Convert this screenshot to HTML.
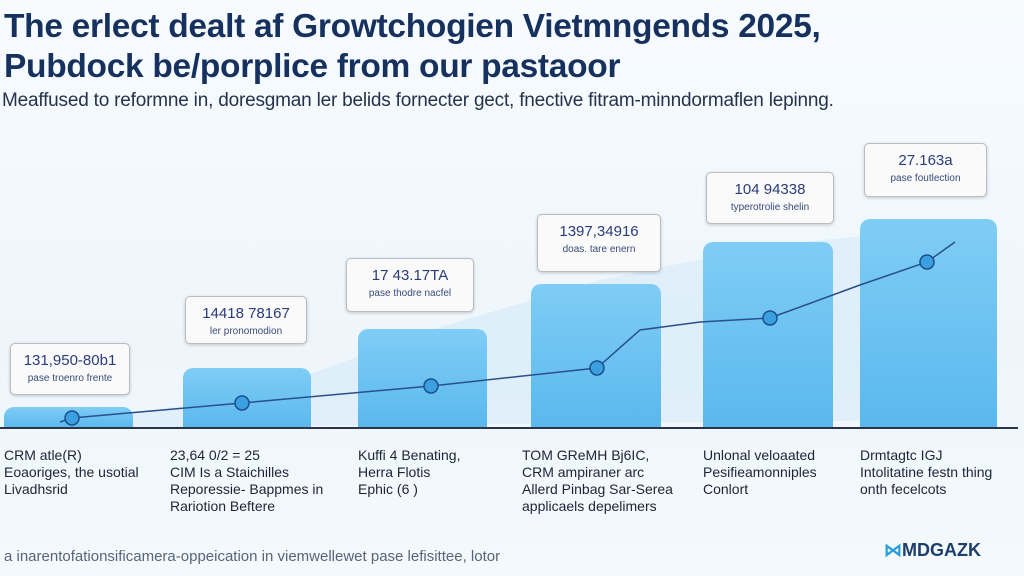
<!DOCTYPE html>
<html><head><meta charset="utf-8"><style>
body{margin:0;width:1024px;height:576px;overflow:hidden;background:linear-gradient(180deg,#f7fbfe 0%,#eef6fc 60%,#f4f9fd 100%);font-family:"Liberation Sans",sans-serif;position:relative}
.t{position:absolute;left:4px;font-weight:bold;color:#17315f;font-size:33.5px;letter-spacing:-0.3px}
.sub{position:absolute;left:2px;top:90px;font-size:19px;color:#25324a;letter-spacing:-0.2px}
.bar{position:absolute;background:linear-gradient(180deg,#7fcdf5,#5ab8ee);border-radius:10px 10px 0 0}
.cb{position:absolute;background:#fafafa;border:1px solid #b8bcc4;border-radius:5px;box-shadow:0 1px 3px rgba(0,0,0,.2);text-align:center}
.cb b{display:block;color:#2a3b7a;font-size:15px;font-weight:normal;margin-top:8px}
.cb i{display:block;font-style:normal;color:#3a4a7a;font-size:10px;margin-top:4px}
.lb{position:absolute;top:447px;font-size:14px;color:#1d2535;line-height:17px}
</style></head><body>
<div class="t" style="top:8px">The erlect dealt af Growtchogien Vietmngends 2025,</div>
<div class="t" style="top:48px">Pubdock be/porplice from our pastaoor</div>
<div class="sub">Meaffused to reformne in, doresgman ler belids fornecter gect, fnective fitram-minndormaflen lepinng.</div>
<svg style="position:absolute;left:0;top:0" width="1024" height="576">
<polygon points="60,420 240,400 430,330 600,280 770,245 930,230 930,420 60,428" fill="#cfe8f8" opacity=".5"/>
</svg>
<div class="bar" style="left:4px;top:407px;width:129px;height:21px"></div>
<div class="bar" style="left:183px;top:368px;width:128px;height:60px"></div>
<div class="bar" style="left:358px;top:329px;width:129px;height:99px"></div>
<div class="bar" style="left:531px;top:284px;width:130px;height:144px"></div>
<div class="bar" style="left:703px;top:242px;width:130px;height:186px"></div>
<div class="bar" style="left:860px;top:219px;width:137px;height:209px"></div>
<svg style="position:absolute;left:0;top:0" width="1024" height="576">
<line x1="0" y1="428" x2="1018" y2="428" stroke="#2a3548" stroke-width="2"/>
<polyline points="60,422 72,418 242,403 431,386 597,368 640,330 700,322 770,318 860,285 927,262 955,242" fill="none" stroke="#2a4f8a" stroke-width="1.5"/>
<g fill="#3aa0e0" stroke="#1d4f8a" stroke-width="1.5">
<circle cx="72" cy="418" r="7"/><circle cx="242" cy="403" r="7"/><circle cx="431" cy="386" r="7"/><circle cx="597" cy="368" r="7"/><circle cx="770" cy="318" r="7"/><circle cx="927" cy="262" r="7"/></g>
</svg>
<div class="cb" style="left:10px;top:343px;width:118px;height:50px"><b>131,950-80b1</b><i>pase troenro frente</i></div>
<div class="cb" style="left:185px;top:296px;width:120px;height:46px"><b>14418 78167</b><i>ler pronomodion</i></div>
<div class="cb" style="left:346px;top:258px;width:126px;height:52px"><b>17 43.17TA</b><i>pase thodre nacfel</i></div>
<div class="cb" style="left:537px;top:214px;width:122px;height:56px"><b>1397,34916</b><i>doas. tare enern</i></div>
<div class="cb" style="left:706px;top:172px;width:126px;height:50px"><b>104 94338</b><i>typerotrolie shelin</i></div>
<div class="cb" style="left:864px;top:143px;width:121px;height:52px"><b>27.163a</b><i>pase foutlection</i></div>
<div class="lb" style="left:4px">CRM atle(R)<br>Eoaoriges, the usotial<br>Livadhsrid</div>
<div class="lb" style="left:170px">23,64 0/2 = 25<br>CIM Is a Staichilles<br>Reporessie- Bappmes in<br>Rariotion Beftere</div>
<div class="lb" style="left:358px">Kuffi 4 Benating,<br>Herra Flotis<br>Ephic (6 )</div>
<div class="lb" style="left:522px">TOM GReMH Bj6IC,<br>CRM ampiraner arc<br>Allerd Pinbag Sar-Serea<br>applicaels depelimers</div>
<div class="lb" style="left:703px">Unlonal veloaated<br>Pesifieamonniples<br>Conlort</div>
<div class="lb" style="left:860px">Drmtagtc IGJ<br>Intolitatine festn thing<br>onth fecelcots</div>
<div style="position:absolute;left:4px;top:548px;font-size:15px;color:#5a6478">a inarentofationsificamera-oppeication in viemwellewet pase lefisittee, lotor</div>
<div style="position:absolute;left:884px;top:540px;font-size:18px;font-weight:bold;color:#1e3f6a"><span style="color:#2a9fd8">⋈</span>MDGAZK</div>
</body></html>
